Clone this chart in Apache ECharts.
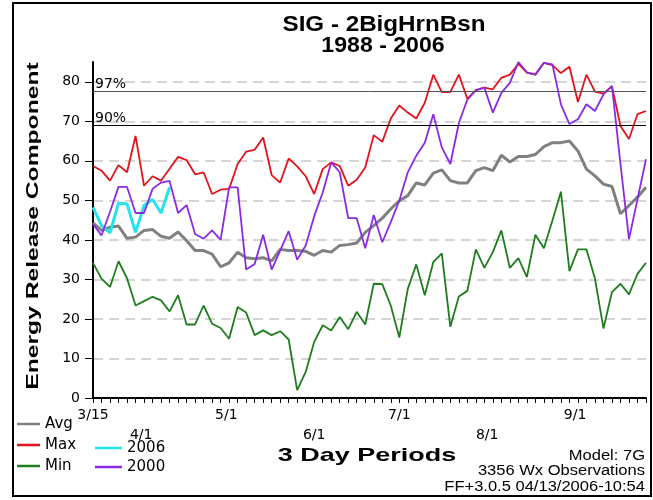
<!DOCTYPE html>
<html><head><meta charset="utf-8">
<script src="https://cdn.jsdelivr.net/npm/echarts@6/dist/echarts.min.js"></script>
<style>html,body{margin:0;padding:0;background:#fff}#c{width:653px;height:500px}</style>
</head><body><div id="c"></div>
<script>
// ---- data ----
const startDate = '3/15';
const periodDays = 3;
const monthLabels = ['3/15','4/1','5/1','6/1','7/1','8/1','9/1'];
const lowerRowLabels = ['4/1','6/1','8/1'];
const yTicks = [0,10,20,30,40,50,60,70,80];
const seriesNames = ['Avg','Max','Min','2006','2000'];
const avgVals = [44.3,42.4,43.2,43.5,40.4,40.7,42.4,42.6,40.9,40.4,42.0,39.8,37.3,37.3,36.4,33.2,34.2,36.9,35.5,35.2,35.5,34.7,37.6,37.3,37.3,37.1,36.1,37.3,36.9,38.6,38.8,39.2,41.9,43.6,45.5,47.8,49.9,51.2,54.4,53.9,56.9,57.7,55.0,54.4,54.4,57.5,58.3,57.5,61.4,59.7,61.1,61.1,61.6,63.6,64.6,64.6,65.0,62.5,57.9,56.2,54.1,53.5,46.6,48.7,50.8,53.3];
const maxVals = [58.7,57.5,55.0,58.9,57.1,66.3,53.7,56.1,55.0,58.0,61.0,60.2,56.6,57.1,51.6,52.7,52.9,59.2,62.3,62.8,65.9,56.4,54.5,60.6,58.6,56.1,51.6,57.9,59.6,58.7,53.7,55.2,58.3,66.5,64.8,70.7,74.0,72.2,70.7,74.7,81.8,77.4,77.4,81.8,75.7,77.9,78.5,78.1,81.0,81.8,84.5,82.3,81.8,84.8,84.2,82.2,83.8,74.9,81.8,77.5,77.0,78.9,68.8,65.5,71.8,72.6];
const minVals = [34.2,30.2,28.1,34.6,30.3,23.4,24.5,25.6,24.7,21.9,26.0,18.6,18.6,23.4,18.8,17.7,15.0,23.0,21.6,15.9,17.1,15.9,16.9,14.8,2.0,6.6,14.2,18.4,17.1,20.5,17.4,21.8,18.6,28.9,28.8,23.4,15.3,27.6,33.8,26.0,34.4,36.6,18.0,25.7,27.1,37.6,32.9,36.9,42.4,32.9,35.4,30.6,41.3,37.9,44.9,52.2,32.1,37.6,37.6,30.2,17.6,26.8,28.9,26.2,31.4,34.2];
const y2006Vals = [48.2,43.6,41.8,49.3,49.1,41.9,48.7,50.2,46.8,53.3];
const y2000Vals = [44.0,41.1,47.1,53.4,53.4,46.8,46.8,52.9,54.5,54.9,46.8,48.8,41.5,40.3,42.4,40.0,53.3,53.3,32.5,33.9,41.3,32.5,37.3,42.2,35.0,38.6,46.0,52.0,59.6,57.1,45.5,45.5,37.9,46.3,39.4,44.5,49.9,57.1,61.3,64.6,71.8,63.4,59.2,69.5,75.5,77.8,78.5,72.2,77.2,79.7,85.0,82.4,81.8,84.8,84.4,74.3,69.3,70.5,74.3,72.6,76.8,78.9,59.2,40.2,50.3,60.4];
const pctLines = [{label:'97%', value:77.6}, {label:'90%', value:68.9}];

// ---- build day categories ----
const nPeriods = avgVals.length;
const nDays = (nPeriods - 1) * periodDays + 1;
const [sm, sd] = startDate.split('/').map(Number);
const days = [];
for (let k = 0; k < nDays; k++) {
  const d = new Date(2006, sm - 1, sd + k);
  days.push((d.getMonth() + 1) + '/' + d.getDate());
}
const toData = vals => vals.map((v, i) => [days[i * periodDays], v]);

const colors = {Avg:'#808080', Max:'#e3131b', Min:'#1f7d1f', '2006':'#22e4ee', '2000':'#8a2be2'};
const widths = {Avg:3, Max:1.8, Min:1.8, '2006':3, '2000':1.8};
const valsByName = {Avg:avgVals, Max:maxVals, Min:minVals, '2006':y2006Vals, '2000':y2000Vals};

const series = seriesNames.map(name => ({
  name, type:'line', data: toData(valsByName[name]), symbol:'none', showSymbol:false,
  lineStyle:{color:colors[name], width:widths[name]}, itemStyle:{color:colors[name]},
  z: 3, silent:true, animation:false
}));
series[0].markLine = {
  silent:true, symbol:'none',
  data: pctLines.map((p, i) => ({
    yAxis: p.value,
    lineStyle:{color: i === 0 ? '#555' : '#000', width:1, type:'solid'},
    label:{show:true, formatter:p.label, position:'insideStartTop', distance:[2,0], color:'#000',
      fontFamily:'DejaVu Sans', fontSize:14}
  }))
};

const chart = echarts.init(document.getElementById('c'));
const sansBold = '"Liberation Sans", Arial, sans-serif';
const txt = (text, x, y, size, bold, scaleX, align, rot) => ({
  type:'text', x, y, scaleX, rotation: rot || 0, silent:true,
  style:{text, font:(bold ? 'bold ' : '') + size + 'px ' + sansBold, fill:'#000',
    textAlign:align || 'center', textVerticalAlign:'middle', align:align || 'center', verticalAlign:'middle'}
});

chart.setOption({
  animation:false,
  backgroundColor:'#fff',
  grid:{left:93, right:7, top:62, bottom:102, containLabel:false},
  xAxis:{
    type:'category', data:days, boundaryGap:false,
    axisLine:{lineStyle:{color:'#000', width:2}},
    axisTick:{show:true, length:5, interval:(i) => i % periodDays === 0, lineStyle:{color:'#000', width:1}},
    axisLabel:{
      interval:(i, v) => monthLabels.includes(v),
      formatter:(v) => lowerRowLabels.includes(v) ? '\n' + v : v,
      color:'#000', fontFamily:'DejaVu Sans', fontSize:14, lineHeight:20, margin:7
    },
    splitLine:{show:false}
  },
  yAxis:{
    type:'value', min:0, max:85,
    axisLine:{show:true, lineStyle:{color:'#000', width:2}},
    axisTick:{show:true, length:8, customValues:yTicks, lineStyle:{color:'#000'}},
    axisLabel:{customValues:yTicks, color:'#000', fontFamily:'DejaVu Sans', fontSize:14, margin:13},
    splitLine:{show:true, lineStyle:{color:'#c8c8c8', width:1.5, type:[10,6]}}
  },
  legend:[
    {data:['Avg','Max','Min'], orient:'vertical', left:17, top:416, itemWidth:23, itemHeight:2.5, itemGap:5,
     icon:'rect', padding:0, textStyle:{color:'#000', fontFamily:'DejaVu Sans', fontSize:15, lineHeight:16}},
    {data:['2006','2000'], orient:'vertical', left:95, top:440, itemWidth:27, itemHeight:2.5, itemGap:3,
     icon:'rect', padding:0, textStyle:{color:'#000', fontFamily:'DejaVu Sans', fontSize:15, lineHeight:16}}
  ],
  graphic:[
    {type:'rect', silent:true, shape:{x:13, y:3, width:638, height:493}, style:{fill:'none', stroke:'#000', lineWidth:2}},
    txt('SIG - 2BigHrnBsn', 384, 25, 22, true, 1.1),
    txt('1988 - 2006', 383, 46, 22, true, 1.05),
    txt('Energy Release Component', 33, 226, 17, true, 1.45, 'center', Math.PI / 2),
    txt('3 Day Periods', 367, 456, 19, true, 1.42),
    txt('Model: 7G', 645, 456, 14, false, 1.18, 'right'),
    txt('3356 Wx Observations', 645, 471, 14, false, 1.18, 'right'),
    txt('FF+3.0.5 04/13/2006-10:54', 645, 487, 14, false, 1.18, 'right')
  ],
  series
});
</script></body></html>
